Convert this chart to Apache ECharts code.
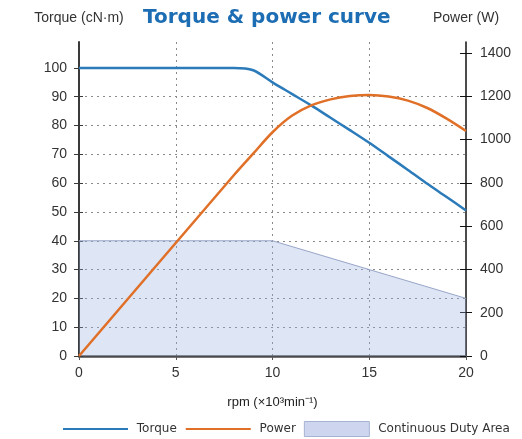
<!DOCTYPE html>
<html>
<head>
<meta charset="utf-8">
<script src="https://cdn.jsdelivr.net/npm/echarts@6/dist/echarts.min.js"></script>
<style>html,body{margin:0;padding:0;background:#fff;}#c{width:522px;height:439px;}</style>
</head>
<body>
<div id="c"></div>
<script>
// ---- data ----
const xTicks = [0, 5, 10, 15, 20];
const torqueTicks = [0, 10, 20, 30, 40, 50, 60, 70, 80, 90, 100];
const powerTicks = [0, 200, 400, 600, 800, 1000, 1200, 1400];

const torqueRpm = [0, 8, 9, 10, 11, 12, 13, 14, 15, 16, 17, 18, 19, 20];
const torqueVal = [100, 100, 99.2, 95, 91, 87, 82.7, 78.4, 74, 69.3, 64.6, 59.8, 55.2, 50.5];

const powerRpm = [0, 8, 9, 10, 11, 12, 13, 14, 15, 16, 17, 18, 19, 20];
const powerVal = [0, 835, 935, 1034, 1110, 1158, 1186, 1201, 1206, 1199, 1180, 1146, 1097, 1040];

const dutyRpm = [0, 10, 20];
const dutyVal = [40, 40, 20];

const zip = (a, b) => a.map((v, i) => [v, b[i]]);

const FONT = 'Liberation Sans';
const axisColor = '#3a3a3a';

const chart = echarts.init(document.getElementById('c'), null, {renderer: 'canvas'});
chart.setOption({
  animation: false,
  backgroundColor: '#ffffff',
  title: {
    text: 'Torque & power curve',
    left: 143, top: 8, padding: 0,
    textStyle: {fontFamily: 'DejaVu Sans', fontWeight: 'bold', fontSize: 20, color: '#1c6db3'}
  },
  grid: {left: 79, right: 56, top: 42, bottom: 83, containLabel: false},
  legend: {
    left: 57, top: 416,
    itemWidth: 65, itemHeight: 15, itemGap: 8,
    formatter: n => ' ' + n,
    textStyle: {fontFamily: 'DejaVu Sans', fontSize: 12, color: '#333'},
    data: [
      {name: 'Torque', itemStyle: {opacity: 0}},
      {name: 'Power', itemStyle: {opacity: 0}},
      {name: 'Continuous Duty Area', icon: 'rect', itemStyle: {color: '#cdd6ee', borderColor: '#a7b3d3', borderWidth: 1, opacity: 1}}
    ]
  },
  xAxis: {
    type: 'value', min: 0, max: 20, interval: 5,
    name: 'rpm (×10³min⁻¹)', nameLocation: 'middle', nameGap: 40,
    nameTextStyle: {fontFamily: FONT, fontSize: 13, color: '#222'},
    axisLine: {show: true, lineStyle: {color: '#4a4a4a', width: 2.5}},
    axisTick: {show: true, length: 4, lineStyle: {color: '#555'}},
    axisLabel: {margin: 10, fontFamily: FONT, fontSize: 14, color: '#333', customValues: xTicks},
    splitLine: {show: true, showMinLine: false, showMaxLine: false, lineStyle: {color: '#8a8a8a', type: [2, 4], width: 1}}
  },
  yAxis: [
    {
      type: 'value', min: 0, max: 109, interval: 10, position: 'left',
      name: 'Torque (cN·m)', nameLocation: 'end', nameGap: 17,
      nameTextStyle: {fontFamily: FONT, fontSize: 14, color: '#333', align: 'center'},
      axisLine: {show: true, lineStyle: {color: axisColor, width: 2}},
      axisTick: {show: true, length: 5, customValues: torqueTicks, lineStyle: {color: axisColor}},
      axisLabel: {margin: 12, fontFamily: FONT, fontSize: 14, color: '#333', customValues: torqueTicks},
      splitLine: {show: true, showMinLine: false, showMaxLine: false, lineStyle: {color: '#8a8a8a', type: [2, 4], width: 1}}
    },
    {
      type: 'value', min: 0, max: 1451, interval: 200, position: 'right',
      name: 'Power (W)', nameLocation: 'end', nameGap: 17,
      nameTextStyle: {fontFamily: FONT, fontSize: 14, color: '#333', align: 'center'},
      axisLine: {show: true, lineStyle: {color: '#111', width: 1.5}},
      axisTick: {show: true, length: 6, customValues: powerTicks, lineStyle: {color: '#111'}},
      axisLabel: {margin: 14, fontFamily: FONT, fontSize: 14, color: '#333', customValues: powerTicks, formatter: v => String(v)},
      splitLine: {show: false}
    },
    {
      type: 'value', min: 0, max: 109, interval: 10, position: 'left',
      axisLine: {show: false},
      axisTick: {show: true, inside: true, length: 4, customValues: torqueTicks, lineStyle: {color: axisColor}},
      axisLabel: {show: false},
      splitLine: {show: false}
    },
    {
      type: 'value', min: 0, max: 1451, interval: 200, position: 'right',
      axisLine: {show: false},
      axisTick: {show: true, inside: true, length: 6, customValues: powerTicks, lineStyle: {color: '#111'}},
      axisLabel: {show: false},
      splitLine: {show: false}
    }
  ],
  series: [
    {
      name: 'Continuous Duty Area', type: 'line', yAxisIndex: 0, z: 1,
      data: zip(dutyRpm, dutyVal), symbol: 'none',
      lineStyle: {color: '#97a5c8', width: 1},
      itemStyle: {color: '#cdd6ee'},
      areaStyle: {color: 'rgba(150,172,222,0.45)', origin: 'start'}
    },
    {
      name: 'Torque', type: 'line', yAxisIndex: 0, z: 3,
      data: zip(torqueRpm, torqueVal), symbol: 'none', smooth: 0.3,
      lineStyle: {color: '#2b7bba', width: 2.5},
      itemStyle: {color: '#2b7bba'}
    },
    {
      name: 'Power', type: 'line', yAxisIndex: 1, z: 3,
      data: zip(powerRpm, powerVal), symbol: 'none', smooth: 0.3,
      lineStyle: {color: '#e07027', width: 2.5},
      itemStyle: {color: '#e07027'}
    }
  ]
});
</script>
</body>
</html>
